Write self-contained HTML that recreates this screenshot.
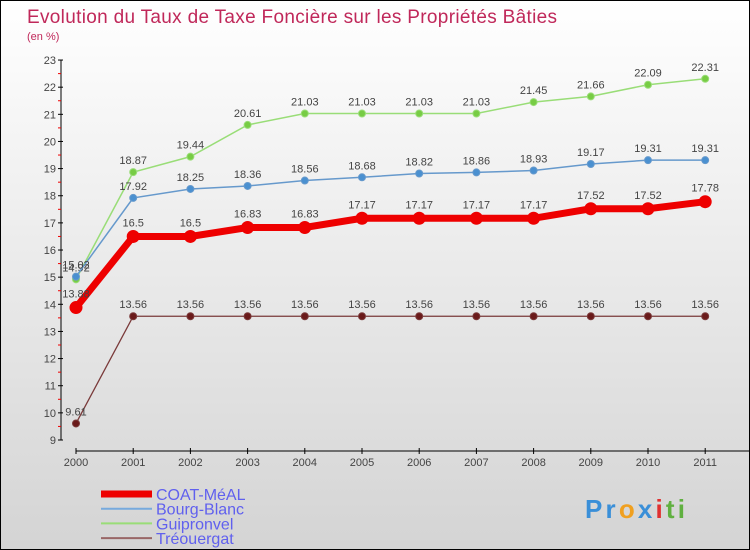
<!DOCTYPE html>
<html><head><meta charset="utf-8"><style>
body{margin:0}
#c{width:748px;height:548px;border:1px solid #000;background:linear-gradient(#ffffff,#d4d4d4);position:relative;font-family:"Liberation Sans",sans-serif;overflow:hidden}
</style></head><body>
<div id="c">
<svg id="s" width="748" height="548" xmlns="http://www.w3.org/2000/svg">
<text x="26" y="22" font-size="19" fill="#c0285a" textLength="530">Evolution du Taux de Taxe Foncière sur les Propriétés Bâties</text>
<text x="26" y="39" font-size="11" fill="#c0285a">(en %)</text>
<g id="legend"></g>
<text x="584" y="517" font-size="26" font-weight="bold" textLength="100"><tspan fill="#3a8fd8">Pr</tspan><tspan fill="#f0a020">o</tspan><tspan fill="#3a8fd8">x</tspan><tspan fill="#e03030">i</tspan><tspan fill="#60b040">ti</tspan></text>
</svg>
</div>
<script>
const years=[2000,2001,2002,2003,2004,2005,2006,2007,2008,2009,2010,2011];
const coat=[13.88,16.5,16.5,16.83,16.83,17.17,17.17,17.17,17.17,17.52,17.52,17.78];
const bourg=[15.02,17.92,18.25,18.36,18.56,18.68,18.82,18.86,18.93,19.17,19.31,19.31];
const guip=[14.92,18.87,19.44,20.61,21.03,21.03,21.03,21.03,21.45,21.66,22.09,22.31];
const treo=[9.61,13.56,13.56,13.56,13.56,13.56,13.56,13.56,13.56,13.56,13.56,13.56];
const yTicks=[9,10,11,12,13,14,15,16,17,18,19,20,21,22,23];
const names=["COAT-MéAL","Bourg-Blanc","Guipronvel","Tréouergat"];
const s=document.getElementById('s');const NS="http://www.w3.org/2000/svg";
const X=i=>75+i*57.2, Y=v=>439-(v-9)*27.14;
function mk(t,a,p){const e=document.createElementNS(NS,t);for(const k in a)e.setAttribute(k,a[k]);(p||s).appendChild(e);return e;}
let ax=mk('line',{x1:60,y1:Y(23),x2:60,y2:Y(9),stroke:'#000'});


let xa=mk('line',{x1:75,y1:450,x2:748,y2:450,stroke:'#000'});


yTicks.forEach(v=>{mk('line',{x1:57,x2:62,y1:Y(v),y2:Y(v),stroke:'#000'});
 if(v<23)mk('line',{x1:57,x2:60,y1:Y(v+0.5),y2:Y(v+0.5),stroke:'#e00'});
 const t=mk('text',{x:55,y:Y(v)+4,'text-anchor':'end','font-size':11,fill:'#444'});t.textContent=v;
 
 });
years.forEach((y,i)=>{mk('line',{x1:X(i),x2:X(i),y1:447,y2:453,stroke:'#000'});
 const t=mk('text',{x:X(i),y:465,'text-anchor':'middle','font-size':11,fill:'#444'});t.textContent=y;
 
 });
function series(d,col,dot,w,r,nm,off){
 const g=mk('g',{});
 
 
 mk('polyline',{points:d.map((v,i)=>X(i)+','+Y(v)).join(' '),fill:'none',stroke:col,'stroke-width':w},g);
 d.forEach((v,i)=>{const c=mk('circle',{cx:X(i),cy:Y(v),r:r,fill:dot,stroke:col,'stroke-width':1},g);
  
  
  const t=mk('text',{x:X(i),y:Y(v)-off,'text-anchor':'middle','font-size':11,fill:'#444'},g);t.textContent=v;});
}
series(treo,'#7a3a3a','#6a1a1a',1.3,3.5,'series-treouergat',8);
series(guip,'#99dd77','#77cc44',1.5,3.5,'series-guipronvel',8);
series(bourg,'#6699cc','#4a90d0',1.5,3.5,'series-bourg-blanc',8);
series(coat,'#ee0000','#ee0000',7,6,'series-coat-meal',10);
const cols=['#ee0000','#77aadd','#99dd77','#996666'],ws=[7,2,2,2];
const lg=document.getElementById('legend');
names.forEach((n,i)=>{const y=493+i*14.7;mk('line',{x1:100,x2:151,y1:y,y2:y,stroke:cols[i],'stroke-width':ws[i]},lg);
 const t=mk('text',{x:155,y:y+6,'font-size':16,fill:'#6060ee'},lg);t.textContent=n;
 
 });
</script>
</body></html>
